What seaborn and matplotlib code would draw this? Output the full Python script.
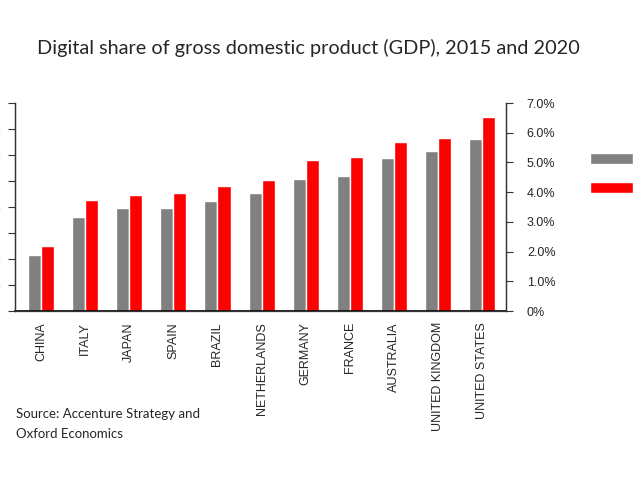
import pandas as pd
import numpy as np
import matplotlib.pyplot as plt
import seaborn as sns

# values (percent of GDP)
countries = ["CHINA", "ITALY", "JAPAN", "SPAIN", "BRAZIL", "NETHERLANDS",
             "GERMANY", "FRANCE", "AUSTRALIA", "UNITED KINGDOM", "UNITED STATES"]
share_2015 = [1.89, 3.17, 3.45, 3.45, 3.71, 3.98, 4.45, 4.53, 5.14, 5.38, 5.79]
share_2020 = [2.19, 3.72, 3.90, 3.98, 4.22, 4.40, 5.09, 5.19, 5.68, 5.82, 6.53]
years = ["2015", "2020"]
right_ticks = [0, 1, 2, 3, 4, 5, 6, 7]
left_ticks = [0, 1, 2, 3, 4, 5, 6, 7, 8]

df = pd.DataFrame({
    "country": countries * 2,
    "year": [years[0]] * len(countries) + [years[1]] * len(countries),
    "share": share_2015 + share_2020,
})

sns.set_style("white")
plt.rcParams['font.family'] = ['Liberation Sans', 'DejaVu Sans']
title_font = ['Lato', 'DejaVu Sans']

fig = plt.figure(figsize=(6.4, 4.8), dpi=100)
ax = fig.add_axes([15 / 640, 1 - 311 / 480, 491 / 640, 208 / 480])

sns.barplot(data=df, x="country", y="share", hue="year",
            palette={"2015": "#808080", "2020": "#ff0000"},
            width=0.59, saturation=1, ax=ax)

# left axis (cut off by the image edge in the original)
ax2 = ax.twinx()
ax2.set_ylim(0, 8)
ax2.yaxis.tick_left()
ax2.set_yticks(left_ticks)
ax2.set_yticklabels(["0%"] + [f"{t:.1f}%" for t in left_ticks[1:]], fontsize=9)
ax2.tick_params(axis="y", direction="out", length=5, width=0.8, color="#333333", pad=5)

ax.set_xlim(-0.59, 10.54)
ax.set_ylim(0, 7)
ax.yaxis.tick_right()
ax.set_yticks(right_ticks)
ax.set_yticklabels(["0%"] + [f"{t:.1f}%" for t in right_ticks[1:]], fontsize=9)
ax.set_xlabel("")
ax.set_ylabel("")
ax.tick_params(axis="x", rotation=90, labelsize=9, length=0, pad=8)
ax.tick_params(axis="y", direction="out", length=5, width=0.8, color="#333333", pad=10)

for a in (ax, ax2):
    a.spines["top"].set_visible(False)
    for s in ("left", "right", "bottom"):
        a.spines[s].set_color("#333333")
        a.spines[s].set_linewidth(0.9)
ax.spines["bottom"].set_color("black")
ax.spines["bottom"].set_linewidth(1.2)

handles, labels = ax.get_legend_handles_labels()
ax.legend(handles, labels, loc="upper left",
          bbox_to_anchor=(590 / 640, 1 - 153 / 480), bbox_transform=fig.transFigure,
          frameon=False, fontsize=9, handlelength=3.45, handleheight=1.0,
          labelspacing=1.25, borderpad=0, borderaxespad=0, handletextpad=0.8)

fig.text(308 / 640, 1 - 48 / 480, "Digital share of gross domestic product (GDP), 2015 and 2020",
         ha="center", va="center", fontsize=14.3, family=title_font)
fig.text(16 / 640, 1 - 408 / 480, "Source: Accenture Strategy and\nOxford Economics",
         ha="left", va="top", fontsize=9.5, linespacing=1.75, family=title_font)

plt.savefig("out.png", dpi=100)
